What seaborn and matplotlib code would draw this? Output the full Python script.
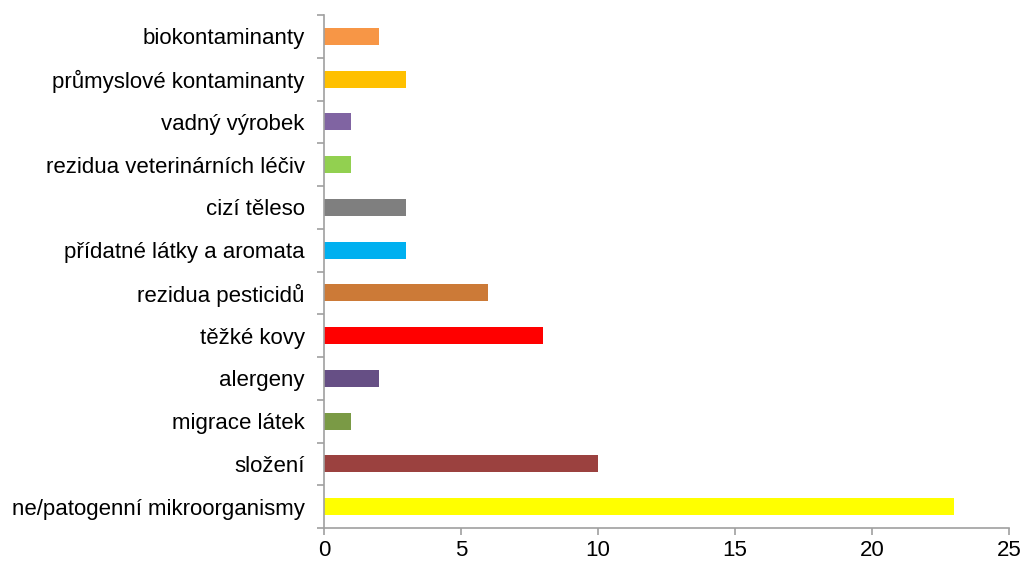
import numpy as np
import matplotlib
matplotlib.use('Agg')
import matplotlib.pyplot as plt
import seaborn as sns

categories = ['biokontaminanty', 'průmyslové kontaminanty', 'vadný výrobek',
              'rezidua veterinárních léčiv', 'cizí těleso', 'přídatné látky a aromata',
              'rezidua pesticidů', 'těžké kovy', 'alergeny', 'migrace látek',
              'složení', 'ne/patogenní mikroorganismy']
counts = [2, 3, 1, 1, 3, 3, 6, 8, 2, 1, 10, 23]
colors = ['#F79646', '#FFC000', '#8064A2', '#92D050', '#7F7F7F', '#00B0F0',
          '#CC7A37', '#FF0000', '#664F85', '#7A9A45', '#9B413F', '#FFFF00']
xticks = [0, 5, 10, 15, 20, 25]

sns.set_style('white')
plt.rcParams['font.family'] = ['Liberation Sans', 'DejaVu Sans']

fig = plt.figure(figsize=(10.23, 5.62), dpi=100)
ax = fig.add_axes([0.3167, 0.0605, 0.9863 - 0.3167, 0.9733 - 0.0605])

sns.barplot(x=counts, y=categories, hue=categories, palette=colors,
            orient='h', width=0.4, legend=False, ax=ax, saturation=1,
            linewidth=0)

ax.set_xlim(0, 25)
ax.set_ylim(11.5, -0.5)
ax.set_xticks(xticks)
ax.set_xlabel('')
ax.set_ylabel('')

for s in ['top', 'right']:
    ax.spines[s].set_visible(False)
for s in ['left', 'bottom']:
    ax.spines[s].set_color('#A0A0A0')
    ax.spines[s].set_linewidth(1.2)

ax.set_yticks(np.arange(-0.5, 12, 1), minor=True)
ax.tick_params(axis='y', which='major', length=0, pad=14, labelsize=16,
               labelcolor='black')
ax.tick_params(axis='y', which='minor', length=5, color='#A0A0A0', width=1.2, left=True)
ax.tick_params(axis='x', which='major', length=5, color='#A0A0A0', width=1.2,
               bottom=True, pad=4, labelsize=16, labelcolor='black')

fig.savefig('out.png', dpi=100)
